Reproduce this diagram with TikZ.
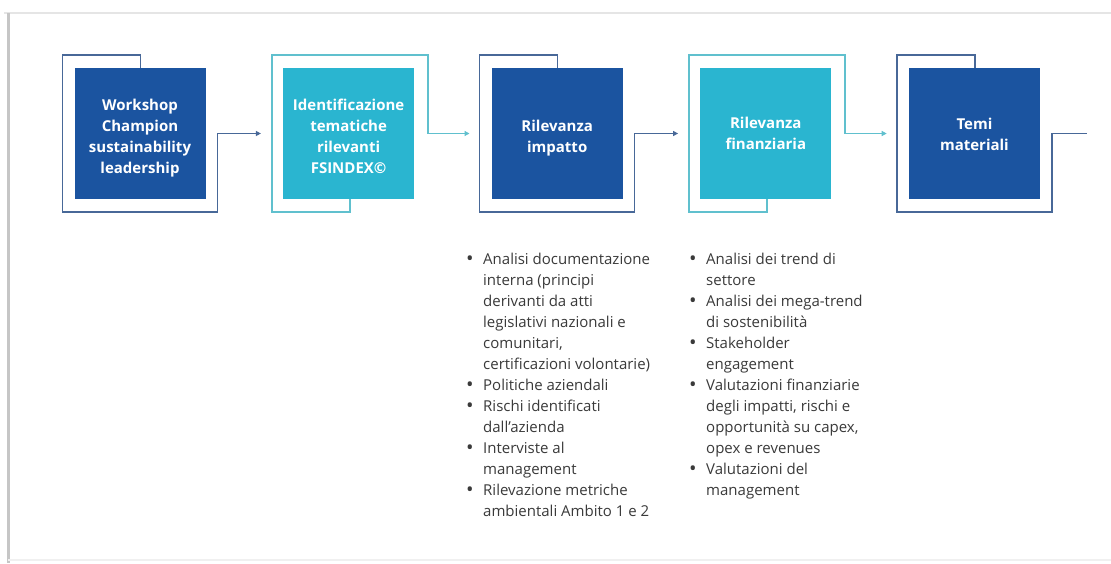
\documentclass[tikz,border=0pt]{standalone}
\usepackage{fontspec}
\setmainfont{Open Sans}
\usetikzlibrary{arrows.meta,calc}
\definecolor{dblue}{RGB}{27,84,160}
\definecolor{cyanb}{RGB}{42,181,208}
\definecolor{dframe}{RGB}{72,104,152}
\definecolor{cframe}{RGB}{96,192,206}
\definecolor{txt}{RGB}{58,58,58}
\newcommand\btext[2]{\raisebox{#1}[\height][\depth]{\begin{tabular}{@{}c@{}}#2\end{tabular}}}
\newcommand\bul{\raisebox{-1.6pt}{\fontsize{20}{21}\selectfont\textbullet}}
\begin{document}
\begin{tikzpicture}[x=1pt,y=-1pt,
 stepbox/.style={minimum width=131pt,minimum height=131pt,inner sep=0pt,text=white,font=\bfseries\fontsize{15}{21}\selectfont},
 darkbox/.style={stepbox,fill=dblue},
 lightbox/.style={stepbox,fill=cyanb},
 dframeline/.style={draw=dframe,line width=1.6pt},
 cframeline/.style={draw=cframe,line width=1.6pt},
 arr/.style={-{Triangle[length=5pt,width=5pt]}},
 bullets/.style={anchor=base west,inner sep=0pt,text=txt,font=\fontsize{15}{21}\selectfont,align=left}]
\useasboundingbox (0,0) rectangle (1111,563);
\fill[white] (0,0) rectangle (1111,563);
\draw[gray!20,line width=1.5pt] (4,13) -- (1111,13);
\draw[gray!45,line width=3pt] (8,13) -- (8,563);
\draw[gray!12,line width=1.5pt] (8,560) -- (1111,560);

\node[darkbox]  (b1) at (140,133.5)   {\btext{-4pt}{Workshop\\Champion\\sustainability\\leadership}};
\node[lightbox] (b2) at (348.6,133.5) {\btext{-4pt}{Identificazione\\tematiche\\rilevanti\\FSINDEX©}};
\node[darkbox]  (b3) at (557.2,133.5) {\btext{-4.5pt}{Rilevanza\\impatto}};
\node[lightbox] (b4) at (765.8,133.5) {\btext{-1.5pt}{Rilevanza\\finanziaria}};
\node[darkbox]  (b5) at (974.4,133.5) {\btext{-2pt}{Temi\\materiali}};

\coordinate (i2) at ([xshift=-22pt]b2.west);
\coordinate (i3) at ([xshift=-22pt]b3.west);
\coordinate (i4) at ([xshift=-22pt]b4.west);
\coordinate (i5) at ([xshift=-22pt]b5.west);
\coordinate (e5) at ([xshift=47pt]b5.east);

\draw[dframeline,arr] ([xshift=66pt]b1.north west) -- ++(0,-13) -- ++(-78,0) -- ++(0,157) -- ++(155,0) |- (i2);
\draw[cframeline,arr] ([xshift=67pt]b2.south west) -- ++(0,13) -- ++(-78,0) -- ++(0,-157) -- ++(156,0) |- (i3);
\draw[dframeline,arr] ([xshift=66pt]b3.north west) -- ++(0,-13) -- ++(-78,0) -- ++(0,157) -- ++(155,0) |- (i4);
\draw[cframeline,arr] ([xshift=67pt]b4.south west) -- ++(0,13) -- ++(-78,0) -- ++(0,-157) -- ++(156,0) |- (i5);
\draw[dframeline] ([xshift=66pt]b5.north west) -- ++(0,-13) -- ++(-78,0) -- ++(0,157) -- ++(155,0) |- (e5);

\node[bullets] (l1) at (466,264) {\begin{tabular}[t]{@{}p{17pt}@{}l@{}}
\bul & Analisi documentazione\\
 & interna (principi\\
 & derivanti da atti\\
 & legislativi nazionali e\\
 & comunitari,\\
 & certificazioni volontarie)\\
\bul & Politiche aziendali\\
\bul & Rischi identificati\\
 & dall’azienda\\
\bul & Interviste al\\
 & management\\
\bul & Rilevazione metriche\\
 & ambientali Ambito 1 e 2
\end{tabular}};

\node[bullets] (l2) at (689,264) {\begin{tabular}[t]{@{}p{17pt}@{}l@{}}
\bul & Analisi dei trend di\\
 & settore\\
\bul & Analisi dei mega-trend\\
 & di sostenibilità\\
\bul & Stakeholder\\
 & engagement\\
\bul & Valutazioni finanziarie\\
 & degli impatti, rischi e\\
 & opportunità su capex,\\
 & opex e revenues\\
\bul & Valutazioni del\\
 & management
\end{tabular}};
\end{tikzpicture}
\end{document}
